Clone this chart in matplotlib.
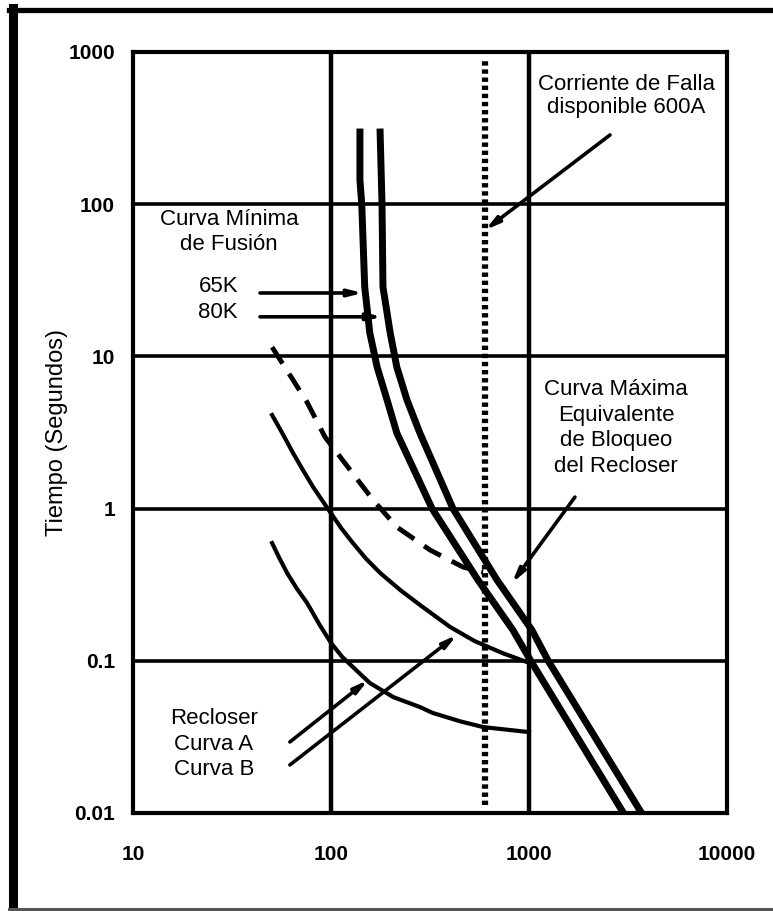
import matplotlib.pyplot as plt
from matplotlib.lines import Line2D

plt.rcParams['font.family'] = ['Liberation Sans', 'DejaVu Sans']

# curvas minimas de fusion (corriente A, tiempo s)
i_65k = [140, 140, 143, 148, 157, 171, 192, 215, 324, 552, 830, 1020, 3000]
t_65k = [298, 144, 100, 28.6, 14.3, 8.5, 5.17, 3.14, 1.0, 0.34, 0.159, 0.1, 0.01]
i_80k = [177, 181, 183, 199, 215, 242, 281, 413, 689, 1035, 1250, 3700]
t_80k = [298, 100, 28.6, 14.3, 8.5, 5.17, 3.14, 1.0, 0.34, 0.159, 0.1, 0.01]

# recloser
i_curva_a = [50.4, 55, 60, 67, 75.7, 87, 100, 114, 129, 157, 206, 281, 327, 450, 586, 1000]
t_curva_a = [0.594, 0.47, 0.378, 0.30, 0.24, 0.175, 0.131, 0.106, 0.091, 0.0715, 0.0578,
             0.0497, 0.0454, 0.040, 0.0367, 0.034]
i_curva_b = [50.4, 57, 64.3, 72, 81.1, 98.9, 113, 129, 150, 177, 225, 281, 399, 530, 739, 1000]
t_curva_b = [4.12, 3.1, 2.32, 1.8, 1.39, 0.95, 0.74, 0.594, 0.47, 0.378, 0.29, 0.233,
             0.167, 0.135, 0.112, 0.097]

# curva maxima equivalente de bloqueo
i_max = [50.4, 64.3, 75.7, 93.3, 124.7, 163, 215, 316, 464, 586]
t_max = [11.5, 7.0, 5.0, 2.95, 1.80, 1.14, 0.757, 0.535, 0.413, 0.383]

i_falla = 600

x_ticks = [10, 100, 1000, 10000]
x_labels = ['10', '100', '1000', '10000']
y_ticks = [0.01, 0.1, 1, 10, 100, 1000]
y_labels = ['0.01', '0.1', '1', '10', '100', '1000']

# flechas: (inicio, punta)
fl_65k = [(43.8, 26.1), (145, 26.1)]
fl_80k = [(43.8, 18.2), (181, 18.2)]
fl_falla = [(2565, 285), (600, 67.6)]
fl_max = [(1706, 1.19), (820, 0.324)]
fl_a = [(62, 0.0293), (154, 0.0748)]
fl_b = [(62, 0.0207), (433, 0.148)]

W, H = 773, 911
fig = plt.figure(figsize=(W / 100, H / 100), dpi=100)
ax = fig.add_axes([133 / W, 1 - 813 / H, (727 - 133) / W, (813 - 52) / H])
ax.set_xscale('log')
ax.set_yscale('log')
ax.set_xlim(10, 10000)
ax.set_ylim(0.01, 1000)

for v in x_ticks[1:-1]:
    ax.axvline(v, color='k', lw=3.2, zorder=1)
for v in y_ticks[1:-1]:
    ax.axhline(v, color='k', lw=2.6, zorder=1)

ax.set_xticks(x_ticks)
ax.set_xticklabels(x_labels, fontweight='bold')
ax.set_yticks(y_ticks)
ax.set_yticklabels(y_labels, fontweight='bold')
ax.minorticks_off()
ax.tick_params(axis='x', length=0, labelsize=15, pad=23)
ax.tick_params(axis='y', length=0, labelsize=15, pad=13)
for s in ax.spines.values():
    s.set_linewidth(3)

ax.axvline(i_falla, ymin=0.01, ymax=0.99, color='k', lw=4.5,
           linestyle=(0, (0.7, 0.6)), dash_capstyle='butt', zorder=2)

ax.plot(i_65k, t_65k, color='k', lw=5, zorder=3, solid_joinstyle='round')
ax.plot(i_80k, t_80k, color='k', lw=5, zorder=3, solid_joinstyle='round')
ax.plot(i_curva_a, t_curva_a, color='k', lw=3, zorder=3, solid_joinstyle='round')
ax.plot(i_curva_b, t_curva_b, color='k', lw=3, zorder=3, solid_joinstyle='round')
ax.plot(i_max, t_max, color='k', lw=3.5, linestyle=(0, (4, 2.5)), zorder=3)

for ini, fin in [fl_65k, fl_80k, fl_falla, fl_max, fl_a, fl_b]:
    ax.annotate('', xy=fin, xytext=ini,
                arrowprops=dict(arrowstyle='-|>,head_length=0.8,head_width=0.2',
                                lw=2.6, color='k', shrinkA=0, shrinkB=0),
                zorder=4)

fs = 16
fig.text(229 / W, 1 - 232 / H, 'Curva Mínima\nde Fusión', ha='center', va='center',
         fontsize=fs, linespacing=1.3)
fig.text(238 / W, 1 - 287 / H, '65K', ha='right', va='center', fontsize=fs)
fig.text(238 / W, 1 - 313 / H, '80K', ha='right', va='center', fontsize=fs)
fig.text(626 / W, 1 - 96 / H, 'Corriente de Falla\ndisponible 600A', ha='center',
         va='center', fontsize=fs, linespacing=1.1)
fig.text(616 / W, 1 - 428 / H, 'Curva Máxima\nEquivalente\nde Bloqueo\ndel Recloser',
         ha='center', va='center', fontsize=fs, linespacing=1.3)
fig.text(214 / W, 1 - 744 / H, 'Recloser\nCurva A\nCurva B', ha='center', va='center',
         fontsize=fs, linespacing=1.3)
fig.text(57 / W, 1 - 432 / H, 'Tiempo (Segundos)', rotation=90, ha='center',
         va='center', fontsize=17)

# marco exterior
fig.add_artist(Line2D([12.5 / W, 12.5 / W], [1 - 8 / H, 0], transform=fig.transFigure,
                      color='k', lw=6.5))
fig.add_artist(Line2D([9 / W, 1], [1 - 10 / H, 1 - 10 / H], transform=fig.transFigure,
                      color='k', lw=3.8))
fig.add_artist(Line2D([9 / W, 1], [1 - 909 / H, 1 - 909 / H], transform=fig.transFigure,
                      color='#555555', lw=2.2))

fig.savefig('out.png', dpi=100)
